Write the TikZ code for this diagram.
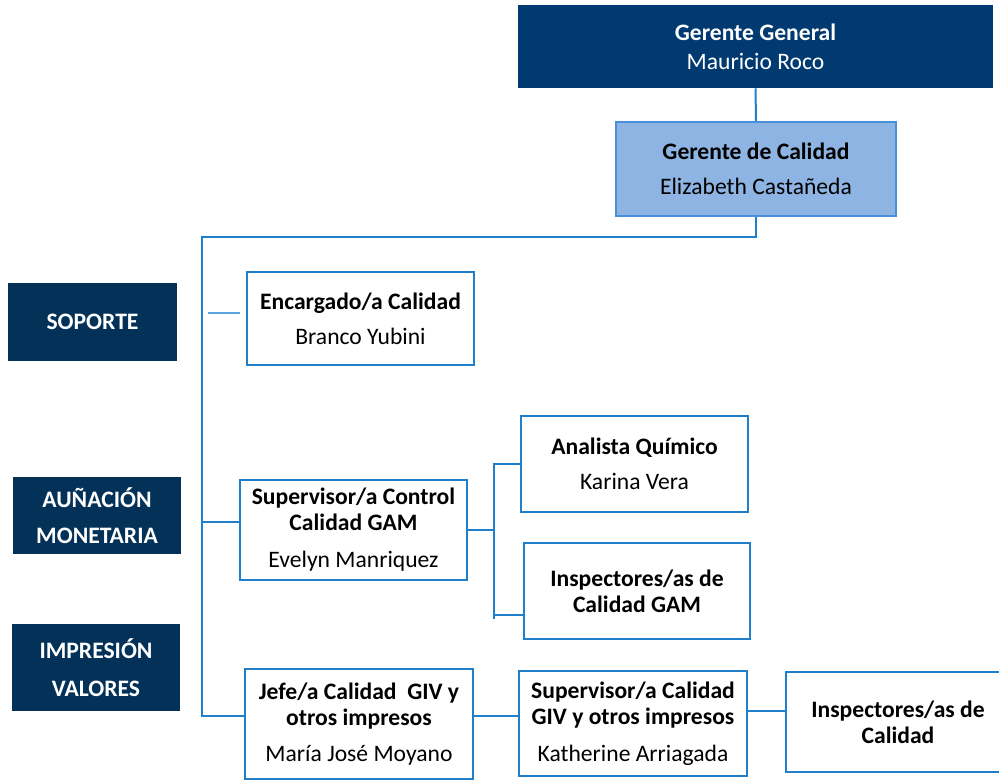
\documentclass[tikz,border=0pt]{standalone}
\usepackage{fontspec}
\setmainfont{Carlito}
\definecolor{navytop}{HTML}{003A70}
\definecolor{navyleft}{HTML}{033158}
\definecolor{lineblue}{HTML}{1F7FCB}
\definecolor{lightline}{HTML}{5BA3E0}
\definecolor{gcfill}{HTML}{8DB4E2}
\definecolor{gcborder}{HTML}{4A90D9}
\begin{document}
\begin{tikzpicture}[x=0.75pt,y=-0.75pt,
  every node/.style={inner sep=0pt, align=center, font=\fontsize{17.7}{19.5}\selectfont},
  orgbox/.style={draw=lineblue, line width=1.5pt, fill=white, text=black},
  darkbox/.style={fill=navyleft, text=white, font=\fontsize{17.7}{19.5}\selectfont\bfseries},
  conn/.style={draw=lineblue, line width=1.5pt},
  connlight/.style={draw=lightline, line width=1.2pt}]
\useasboundingbox (0,0) rectangle (999,780);

% top boxes
\node[fill=navytop, text=white, minimum width=475*0.75pt, minimum height=83*0.75pt] (gg) at (755.5,46.5)
  {\textbf{Gerente General}\\[2.25pt]Mauricio Roco};
\node[draw=gcborder, line width=1.5pt, fill=gcfill, minimum width=280*0.75pt, minimum height=94*0.75pt] (gc) at (756,169)
  {\textbf{Gerente de Calidad}\\[6.75pt]Elizabeth Castañeda};

% left category boxes
\node[darkbox, minimum width=169*0.75pt, minimum height=78*0.75pt] (sop) at (92.5,322) {SOPORTE};
\node[darkbox, minimum width=168*0.75pt, minimum height=77*0.75pt] (aun) at (97,515.5) {AUÑACIÓN\\[7.5pt]MONETARIA};
\node[darkbox, minimum width=168*0.75pt, minimum height=87*0.75pt] (imp) at (96,667.5) {IMPRESIÓN\\[9pt]VALORES};

% second level
\node[orgbox, minimum width=227*0.75pt, minimum height=93*0.75pt] (enc) at (360.5,318.5)
  {\textbf{Encargado/a Calidad}\\[6.75pt]Branco Yubini};
\node[orgbox, minimum width=227*0.75pt, minimum height=100*0.75pt] (sgam) at (353.5,530)
  {\textbf{Supervisor/a Control}\\\textbf{Calidad GAM}\\[8.25pt]Evelyn Manriquez};
\node[orgbox, minimum width=228*0.75pt, minimum height=110*0.75pt] (jefe) at (359,724)
  {\textbf{Jefe/a Calidad\ \ GIV y}\\\textbf{otros impresos}\\[7.5pt]María José Moyano};

% third level
\node[orgbox, minimum width=227*0.75pt, minimum height=96*0.75pt] (ana) at (634.5,464)
  {\textbf{Analista Químico}\\[6.75pt]Karina Vera};
\node[orgbox, minimum width=226*0.75pt, minimum height=96*0.75pt] (igam) at (637,591)
  {\textbf{Inspectores/as de}\\\textbf{Calidad GAM}};
\node[orgbox, minimum width=228*0.75pt, minimum height=105*0.75pt] (sgiv) at (633,723.5)
  {\textbf{Supervisor/a Calidad}\\\textbf{GIV y otros impresos}\\[8.25pt]Katherine Arriagada};
\node[orgbox, minimum width=224*0.75pt, minimum height=100*0.75pt] (icg) at (898,722)
  {\textbf{Inspectores/as de}\\\textbf{Calidad}};

% connectors
\coordinate (st) at (202,237);
\coordinate (sb) at (202,716);
\coordinate (sj) at (202,522);
\coordinate (e1) at (208,313);
\coordinate (g0) at (467,530);
\coordinate (g1) at (494,530);
\coordinate (a1) at (494,464);
\coordinate (b1) at (494,615);
\coordinate (bt) at (494,619);
\coordinate (j1) at (473,716);
\coordinate (s1) at (747,711);

\draw[conn] (gg.south) -- (gc.north);
\draw[conn] (gc.south) |- (st) -- (sb) -- (sb -| jefe.west);
\draw[conn] (sj) -- (sj -| sgam.west);
\draw[connlight, shorten >=4.5pt] (e1) -- (e1 -| enc.west);
\draw[conn] (g0) -- (g1);
\draw[conn] (ana.west |- a1) -- (a1) -- (bt);
\draw[conn] (b1) -- (b1 -| igam.west);
\draw[conn] (j1) -- (j1 -| sgiv.west);
\draw[conn] (s1) -- (s1 -| icg.west);
\end{tikzpicture}
\end{document}
